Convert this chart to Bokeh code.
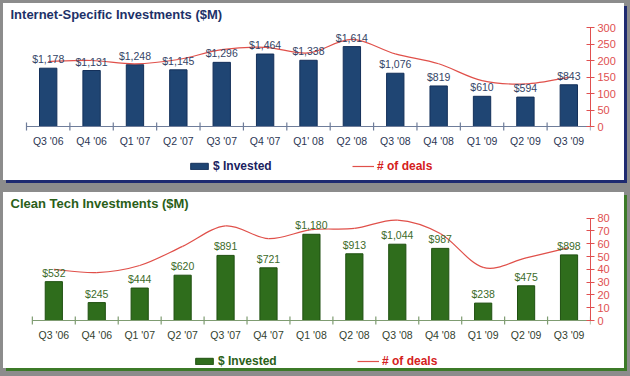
import math
from bokeh.plotting import figure
from bokeh.models import (ColumnDataSource, Range1d, LinearAxis, FixedTicker, LabelSet,
                          Legend, LegendItem, Label)
from bokeh.core.properties import value
from bokeh.layouts import column
from bokeh.embed import file_html
from bokeh.resources import INLINE

quarters_net = ["Q3 '06", "Q4 '06", "Q1 '07", "Q2 '07", "Q3 '07", "Q4 '07", "Q1' 08",
                "Q2 '08", "Q3 '08", "Q4 '08", "Q1 '09", "Q2 '09", "Q3 '09"]
quarters_clean = ["Q3 '06", "Q4 '06", "Q1 '07", "Q2 '07", "Q3 '07", "Q4 '07", "Q1 '08",
                  "Q2 '08", "Q3 '08", "Q4 '08", "Q1 '09", "Q2 '09", "Q3 '09"]
net_invested = [1178, 1131, 1248, 1145, 1296, 1464, 1338, 1614, 1076, 819, 610, 594, 843]
net_deals = [197, 200, 190, 203, 233, 240, 223, 264, 220, 190, 139, 129, 149]
clean_invested = [532, 245, 444, 620, 891, 721, 1180, 913, 1044, 987, 238, 475, 898]
clean_deals = [40, 37.5, 43, 58, 74, 64, 71, 72, 78.5, 68, 41.5, 49, 57]

FONT = "Liberation Sans"
W = 621


def bezier_source(xs, ys):
    n = len(xs)
    d = dict(x0=[], y0=[], x1=[], y1=[], cx0=[], cy0=[], cx1=[], cy1=[])
    for i in range(n - 1):
        xp, yp = (xs[i - 1], ys[i - 1]) if i > 0 else (xs[i], ys[i])
        xn2, yn2 = (xs[i + 2], ys[i + 2]) if i + 2 < n else (xs[i + 1], ys[i + 1])
        d["x0"].append(xs[i]); d["y0"].append(ys[i])
        d["x1"].append(xs[i + 1]); d["y1"].append(ys[i + 1])
        d["cx0"].append(xs[i] + (xs[i + 1] - xp) / 6.0)
        d["cy0"].append(ys[i] + (ys[i + 1] - yp) / 6.0)
        d["cx1"].append(xs[i + 1] - (xn2 - xs[i]) / 6.0)
        d["cy1"].append(ys[i + 1] - (yn2 - ys[i]) / 6.0)
    return ColumnDataSource(d)


def panel(title, cats, invested, deals, inv_max, deals_max, deals_step,
          bar_color, bar_line, title_color, label_color, cat_color, axis_color,
          legend_inv_color, H, axis_left, frame_right, zero_y, top_y, shadow,
          leg_x, leg_y):
    n = len(cats)
    centers = [i + 0.5 for i in range(n)]
    cat_w = (frame_right - axis_left) / n
    px_inv = (zero_y - top_y) / inv_max
    px_deals = (zero_y - top_y) / deals_max

    src = ColumnDataSource(dict(x=centers, inv=invested,
                                lab=["${:,}".format(v) for v in invested]))
    p = figure(width=W, height=H, output_backend="svg", toolbar_location=None,
               x_range=Range1d(-axis_left / cat_w, n),
               y_range=Range1d(-(H - zero_y) / px_inv, zero_y / px_inv),
               x_axis_location=None, y_axis_location=None,
               min_border_left=0, min_border_right=W - frame_right,
               min_border_top=0, min_border_bottom=0, outline_line_color=None,
               background_fill_color=None, border_fill_color="white")
    p.grid.visible = False
    p.extra_y_ranges = {"deals": Range1d(-(H - zero_y) / px_deals, zero_y / px_deals)}

    # title
    p.add_layout(Label(x=7, y=H - 11, x_units="screen", y_units="screen", text=title,
                       text_font=FONT, text_font_size="13px", text_font_style="bold",
                       text_color=title_color, text_baseline="middle"))

    bars = p.vbar(x="x", top="inv", width=0.4, source=src, fill_color=bar_color,
                  line_color=bar_line, line_width=1)
    p.add_layout(LabelSet(x="x", y="inv", text="lab", source=src, text_align="center",
                          text_baseline="bottom", y_offset=3, text_font=value(FONT),
                          text_font_size=value("10.5px"), text_color=value(label_color)))

    # category axis
    p.segment(x0=[0], y0=[0], x1=[n], y1=[0], line_color=axis_color, line_width=1.2)
    p.scatter(x=list(range(n + 1)), y=[0] * (n + 1), marker="dash", angle=math.pi / 2,
              size=8, line_color=axis_color, line_width=1.2)
    p.text(x=centers, y=[0] * n, text=cats, y_offset=14, text_align="center",
           text_baseline="middle", text_font=value(FONT), text_font_size="10.5px",
           text_color=cat_color)

    bsrc = bezier_source(centers, deals)
    line = p.bezier(x0="x0", y0="y0", x1="x1", y1="y1", cx0="cx0", cy0="cy0",
                    cx1="cx1", cy1="cy1", source=bsrc, y_range_name="deals",
                    line_color="#e0504a", line_width=1.2)

    ra = LinearAxis(y_range_name="deals", bounds=(0, deals_max),
                    ticker=FixedTicker(ticks=list(range(0, deals_max + 1, deals_step))))
    ra.axis_line_color = "#e05050"
    ra.major_tick_line_color = "#e05050"
    ra.major_tick_in = 4
    ra.major_tick_out = 4
    ra.minor_tick_line_color = None
    ra.major_label_text_color = "#e05050"
    ra.major_label_text_font = FONT
    ra.major_label_text_font_size = "11px"
    ra.major_label_standoff = 3
    p.add_layout(ra, "right")

    common = dict(border_line_color=None, background_fill_alpha=0, padding=0, margin=0,
                  glyph_width=22, glyph_height=8, label_standoff=3,
                  label_text_font=FONT, label_text_font_size="12px",
                  label_text_font_style="bold")
    leg1 = Legend(items=[LegendItem(label="$ Invested", renderers=[bars])],
                  location=(leg_x, leg_y), label_text_color=legend_inv_color, **common)
    leg2 = Legend(items=[LegendItem(label="# of deals", renderers=[line])],
                  location=(leg_x + 164, leg_y), label_text_color="#d42020", **common)
    p.add_layout(leg1)
    p.add_layout(leg2)
    p.styles = {"box-shadow": shadow, "background-color": "white"}
    return p


top = panel("Internet-Specific Investments ($M)", quarters_net, net_invested, net_deals,
            2000, 300, 50, "#1f4573", "#14305a", "#1d3168", "#344466", "#2c3654",
            "#6f7d9a", "#1a2260", 177, 23, 587, 123, 24,
            "3px 3px 0 #1e2a70", 185, 7)
top.margin = (3, 0, 0, 3)

bottom = panel("Clean Tech Investments ($M)", quarters_clean, clean_invested, clean_deals,
               1400, 80, 10, "#2f6d1c", "#1f5010", "#2a5e18", "#3c6b2a", "#33422f",
               "#7f9c72", "#2a6018", 176, 29, 590, 128, 25.7,
               "3px 3px 0 #3c7a28", 190, 0)
bottom.margin = (12, 0, 0, 3)

layout = column(top, bottom, width=630, height=376,
                styles={"background-color": "#8c8c8c"})

open("out.html", "w").write(file_html(layout, INLINE))
